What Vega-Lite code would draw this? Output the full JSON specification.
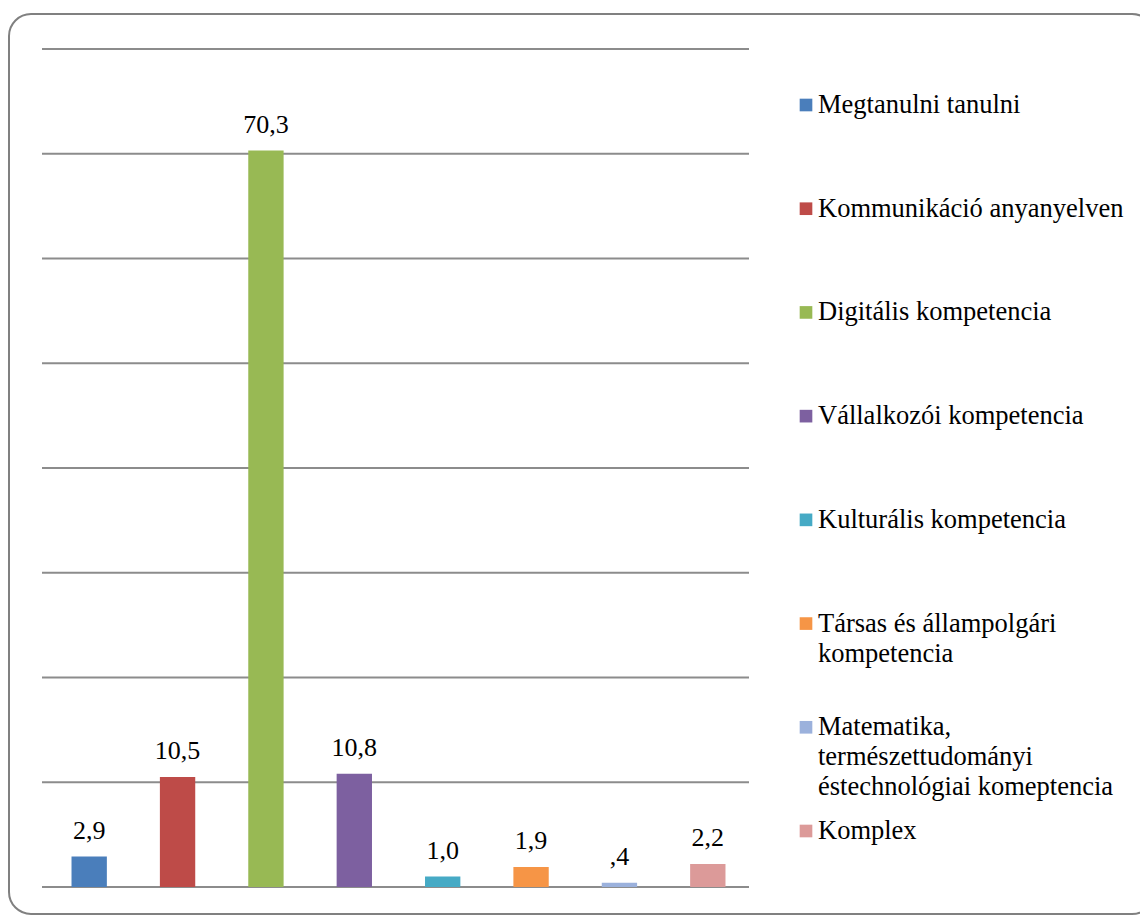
{
  "$schema": "https://vega.github.io/schema/vega-lite/v6.json",
  "width": 1140,
  "height": 915,
  "autosize": {"type": "fit", "contains": "padding"},
  "padding": {"left": 9, "top": 14, "right": -14, "bottom": 1},
  "background": "white",
  "config": {
    "view": {"stroke": "#808080", "strokeWidth": 2, "cornerRadius": 22, "fill": "white"},
    "font": "Liberation Serif",
    "text": {"font": "Liberation Serif"}
  },
  "datasets": {
    "bars": [
      {"cat": "Megtanulni tanulni", "value": 2.9, "label": "2,9"},
      {"cat": "Kommunikáció anyanyelven", "value": 10.5, "label": "10,5"},
      {"cat": "Digitális kompetencia", "value": 70.3, "label": "70,3"},
      {"cat": "Vállalkozói kompetencia", "value": 10.8, "label": "10,8"},
      {"cat": "Kulturális kompetencia", "value": 1.0, "label": "1,0"},
      {"cat": "Társas és állampolgári kompetencia", "value": 1.9, "label": "1,9"},
      {"cat": "Matematika, természettudományi éstechnológiai komeptencia", "value": 0.4, "label": ",4"},
      {"cat": "Komplex", "value": 2.2, "label": "2,2"}
    ],
    "grid": [
      {"g": 0}, {"g": 10}, {"g": 20}, {"g": 30}, {"g": 40}, {"g": 50}, {"g": 60}, {"g": 70}, {"g": 80}
    ]
  },
  "resolve": {"scale": {"x": "independent", "y": "independent"}},
  "layer": [
    {
      "data": {"name": "grid"},
      "mark": {"type": "rule", "color": "#8c8c8c", "strokeWidth": 2},
      "encoding": {
        "y": {"field": "g", "type": "quantitative", "axis": null,
              "scale": {"domain": [0, 80], "range": [873, 35], "nice": false, "zero": false}},
        "x": {"datum": 0, "type": "quantitative", "axis": null,
              "scale": {"domain": [0, 1], "range": [33, 740], "nice": false, "zero": false}},
        "x2": {"datum": 1}
      }
    },
    {
      "data": {"name": "bars"},
      "layer": [
        {
          "mark": {"type": "bar"},
          "encoding": {
            "x": {"field": "cat", "type": "nominal", "sort": null, "axis": null,
                  "scale": {"range": [36, 743], "paddingInner": 0.6, "paddingOuter": 0.3}},
            "y": {"field": "value", "type": "quantitative", "axis": null,
                  "scale": {"domain": [0, 80], "range": [873, 35], "nice": false}},
            "color": {"field": "cat", "type": "nominal", "legend": null,
                      "scale": {"domain": ["Megtanulni tanulni", "Kommunikáció anyanyelven", "Digitális kompetencia", "Vállalkozói kompetencia", "Kulturális kompetencia", "Társas és állampolgári kompetencia", "Matematika, természettudományi éstechnológiai komeptencia", "Komplex"],
                                "range": ["#4a7ebb", "#be4b48", "#98b954", "#7d60a0", "#46aac5", "#f69546", "#9bb1dc", "#dc9a99"]}}
          }
        },
        {
          "mark": {"type": "text", "font": "Liberation Serif", "fontSize": 26, "baseline": "alphabetic", "dy": -18, "color": "#000000"},
          "encoding": {
            "x": {"field": "cat", "type": "nominal", "sort": null, "axis": null,
                  "scale": {"range": [36, 743], "paddingInner": 0.6, "paddingOuter": 0.3}},
            "y": {"field": "value", "type": "quantitative", "axis": null,
                  "scale": {"domain": [0, 80], "range": [873, 35], "nice": false}},
            "text": {"field": "label"}
          }
        }
      ]
    },
    {
      "data": {"name": "bars"},
      "layer": [
        {
          "mark": {"type": "square", "size": 160, "opacity": 1},
          "encoding": {
            "y": {"field": "cat", "type": "nominal", "sort": null, "axis": null,
                  "scale": {"type": "point", "range": [91, 817], "padding": 0}},
            "x": {"datum": 0, "type": "quantitative", "axis": null,
                  "scale": {"domain": [0, 1], "range": [797, 1130], "nice": false, "zero": false}},
            "color": {"field": "cat", "type": "nominal", "legend": null}
          }
        },
        {
          "mark": {"type": "text", "font": "Liberation Serif", "fontSize": 26.5, "baseline": "top", "align": "left", "dx": 12, "dy": -13, "lineHeight": 30, "color": "#000000"},
          "encoding": {
            "y": {"field": "cat", "type": "nominal", "sort": null, "axis": null,
                  "scale": {"type": "point", "range": [91, 817], "padding": 0}},
            "x": {"datum": 0, "type": "quantitative", "axis": null,
                  "scale": {"domain": [0, 1], "range": [797, 1130], "nice": false, "zero": false}},
            "text": {"value": {"expr": "datum.cat == 'Társas és állampolgári kompetencia' ? ['Társas és állampolgári', 'kompetencia'] : datum.cat == 'Matematika, természettudományi éstechnológiai komeptencia' ? ['Matematika,', 'természettudományi', 'éstechnológiai komeptencia'] : datum.cat"}}
          }
        }
      ]
    }
  ]
}
